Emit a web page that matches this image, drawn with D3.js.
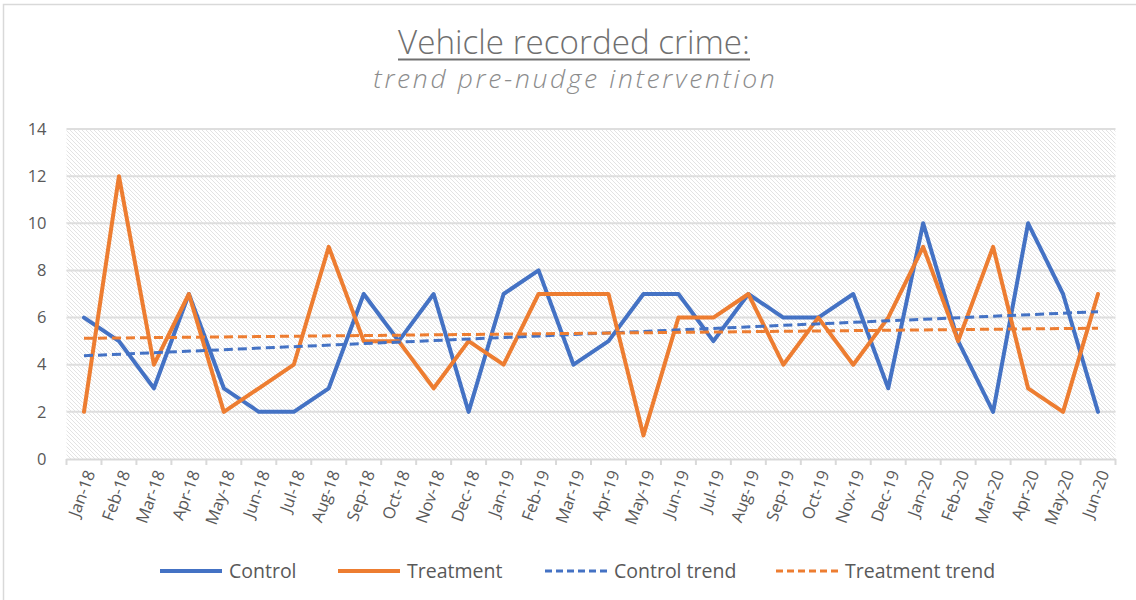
<!DOCTYPE html>
<html><head><meta charset="utf-8">
<script src="https://cdn.jsdelivr.net/npm/d3@7"></script>
<style>body{margin:0;background:#fff}svg{display:block}</style>
</head><body>
<script>
const months = ["Jan-18","Feb-18","Mar-18","Apr-18","May-18","Jun-18","Jul-18","Aug-18","Sep-18","Oct-18","Nov-18","Dec-18",
"Jan-19","Feb-19","Mar-19","Apr-19","May-19","Jun-19","Jul-19","Aug-19","Sep-19","Oct-19","Nov-19","Dec-19",
"Jan-20","Feb-20","Mar-20","Apr-20","May-20","Jun-20"];
const control = [6,5,3,7,3,2,2,3,7,5,7,2,7,8,4,5,7,7,5,7,6,6,7,3,10,5,2,10,7,2];
const treatment = [2,12,4,7,2,3,4,9,5,5,3,5,4,7,7,7,1,6,6,7,4,6,4,6,9,5,9,3,2,7];
const controlTrend = [4.38, 6.25];
const treatmentTrend = [5.12, 5.55];
const yTicks = [0,2,4,6,8,10,12,14];
const seriesNames = ["Control","Treatment","Control trend","Treatment trend"];

const W=1136,H=600;
const blue="#4472C4", orange="#ED7D31";
const font="'Open Sans', sans-serif";
const svg=d3.select("body").append("svg").attr("width",W).attr("height",H);

const defs=svg.append("defs");
const pat=defs.append("pattern").attr("id","hatch").attr("patternUnits","userSpaceOnUse")
  .attr("width",4).attr("height",4);
pat.append("rect").attr("width",4).attr("height",4).attr("fill","#fff");
pat.append("path").attr("d","M-1,-1 L5,5 M-1,3 L1,5 M3,-1 L5,1").attr("stroke","#e0e0e0").attr("stroke-width",0.9);

svg.append("rect").attr("x",3.5).attr("y",4.5).attr("width",1140).attr("height",610)
  .attr("fill","#fff").attr("stroke","#d9d9d9").attr("stroke-width",1.5);

const L=66.5,R=1115.5,T=129,B=459;
const x=d3.scaleBand().domain(months).range([L,R]);
const y=d3.scaleLinear().domain([0,14]).range([B,T]);
const cx=m=>x(m)+x.bandwidth()/2;

svg.append("rect").attr("x",L).attr("y",T).attr("width",R-L).attr("height",B-T).attr("fill","url(#hatch)");

// gridlines
svg.append("g").selectAll("line").data(yTicks.filter(d=>d>0)).join("line")
  .attr("x1",L).attr("x2",R).attr("y1",d=>y(d)).attr("y2",d=>y(d))
  .attr("stroke","#dedede").attr("stroke-width",2);

// y axis labels
const ya=svg.append("g").attr("transform",`translate(${L-20},0)`)
  .call(d3.axisLeft(y).tickValues(yTicks).tickSize(0).tickPadding(0));
ya.select(".domain").remove();
ya.selectAll("text").attr("font-family",font).attr("font-size",16.5).attr("fill","#595959");

// x axis
const xa=svg.append("g").attr("transform",`translate(0,${B})`)
  .call(d3.axisBottom(x).tickSize(0).tickPadding(0));
xa.select(".domain").attr("stroke","#d9d9d9").attr("stroke-width",2);
xa.selectAll("text").attr("font-family",font).attr("font-size",16.5).attr("fill","#595959")
  .attr("text-anchor","end").attr("dy","0.35em")
  .attr("transform","translate(6,12) rotate(-70)");
svg.append("g").selectAll("line").data(months.concat(["end"])).join("line")
  .attr("x1",(d,i)=>i<months.length?x(d):R).attr("x2",(d,i)=>i<months.length?x(d):R)
  .attr("y1",B).attr("y2",B+6).attr("stroke","#d9d9d9").attr("stroke-width",2);

// lines
const line=d3.line().x((d,i)=>cx(months[i])).y(d=>y(d));
svg.append("path").datum(control).attr("d",line).attr("fill","none").attr("stroke",blue)
  .attr("stroke-width",4).attr("stroke-linejoin","round").attr("stroke-linecap","round");
svg.append("path").datum(treatment).attr("d",line).attr("fill","none").attr("stroke",orange)
  .attr("stroke-width",4).attr("stroke-linejoin","round").attr("stroke-linecap","round");

const tline=d3.line().x((d,i)=>cx(months[i===0?0:months.length-1])).y(d=>y(d));
svg.append("path").datum(controlTrend).attr("d",tline).attr("stroke",blue).attr("stroke-width",3)
  .attr("stroke-dasharray","9,5").attr("fill","none");
svg.append("path").datum(treatmentTrend).attr("d",tline).attr("stroke",orange).attr("stroke-width",3)
  .attr("stroke-dasharray","9,5").attr("fill","none");

// titles
function fitText(sel, target){
  const w=sel.node().getComputedTextLength();
  sel.attr("font-size",+sel.attr("font-size")*target/w);
}
function spaceText(sel, target){
  const w=sel.node().getComputedTextLength();
  const n=sel.text().length;
  sel.attr("letter-spacing",(target-w)/n);
  sel.attr("x",+sel.attr("x")+((target-w)/n)/2);
}
const t1=svg.append("text").attr("x",574).attr("y",54).attr("text-anchor","middle")
  .attr("font-family",font).attr("font-weight",300).attr("font-size",28).attr("fill","#707070")
  .text("Vehicle recorded crime:");
fitText(t1,352);
svg.append("line").attr("x1",398).attr("x2",750).attr("y1",59.5).attr("y2",59.5)
  .attr("stroke","#707070").attr("stroke-width",2);
const t2=svg.append("text").attr("x",574).attr("y",88).attr("text-anchor","middle")
  .attr("font-family",font).attr("font-weight",300).attr("font-style","italic").attr("font-size",26.5).attr("fill","#8c8c8c")
  .text("trend pre-nudge intervention");
spaceText(t2,404);

// legend
const legX=[160,338,545,776];
const lg=svg.append("g");
seriesNames.forEach((n,i)=>{
  const g=lg.append("g").attr("transform",`translate(${legX[i]},571)`);
  g.append("line").attr("x1",0).attr("x2",62).attr("y1",0).attr("y2",0)
   .attr("stroke",i%2===0?blue:orange).attr("stroke-width",i<2?4:3)
   .attr("stroke-dasharray",i<2?null:"7,4");
  g.append("text").attr("x",69).attr("y",0).attr("dy","0.35em").attr("font-family",font)
   .attr("font-size",19.5).attr("fill","#595959").text(n);
});
</script>
</body></html>
